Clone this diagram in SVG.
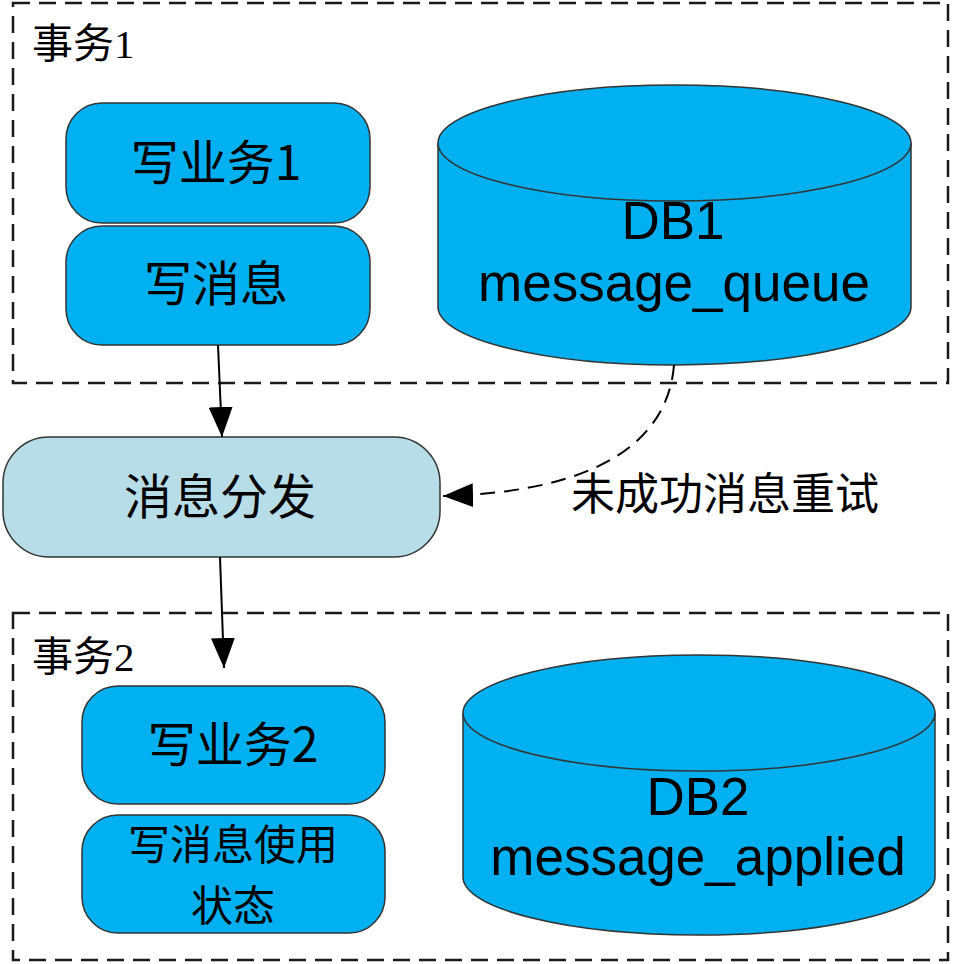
<svg xmlns="http://www.w3.org/2000/svg" width="953" height="964" viewBox="0 0 953 964">
<defs>
<style>
.frame{fill:none;stroke:#1a1a1a;stroke-width:2.5;stroke-dasharray:17 9}
.node{fill:#00b0f0;stroke:#333;stroke-width:1.5}
.light{fill:#b7dde8;stroke:#333;stroke-width:1.5}
.t{font-family:"Noto Sans CJK SC","Liberation Sans",sans-serif;fill:#000;text-anchor:middle}
.lat{font-family:"Liberation Sans","Noto Sans CJK SC",sans-serif;fill:#000;text-anchor:middle;font-size:53px}
.title{font-family:"Liberation Serif","Noto Sans CJK SC",serif;fill:#000;font-size:41px}
.edge{fill:none;stroke:#000;stroke-width:2}
.dash{fill:none;stroke:#000;stroke-width:2;stroke-dasharray:15 9}
</style>
<marker id="arr" markerWidth="30" markerHeight="24" viewBox="0 0 30 24" refX="30" refY="12" orient="auto" markerUnits="userSpaceOnUse">
<path d="M0,0 L30,12 L0,24 Z" fill="#000"/>
</marker>
</defs>

<g id="txn1">
<rect class="frame" x="13" y="3" width="935" height="380"/>
<text class="title" x="32" y="58">事务1</text>
</g>

<g id="write-biz1">
<rect class="node" x="66" y="103" width="304" height="120" rx="36"/>
<text class="t" x="216" y="180" font-size="48">写业务1</text>
</g>

<g id="write-msg">
<rect class="node" x="66" y="226" width="304" height="119" rx="36"/>
<text class="t" x="216" y="301" font-size="48">写消息</text>
</g>

<g id="db1">
<path class="node" d="M438,143 L438,307 A236.5,58 0 0 0 911,307 L911,143"/>
<ellipse class="node" cx="674.5" cy="143" rx="236.5" ry="58"/>
<text class="lat" x="673" y="239">DB1</text>
<text class="lat" x="674" y="301">message_queue</text>
</g>

<g id="dispatch">
<rect class="light" x="3" y="437" width="437" height="120" rx="46"/>
<text class="t" x="220" y="514" font-size="48">消息分发</text>
</g>

<g id="txn2">
<rect class="frame" x="13" y="613" width="935" height="347"/>
<text class="title" x="32" y="671">事务2</text>
</g>

<g id="write-biz2">
<rect class="node" x="82" y="686" width="303" height="118" rx="36"/>
<text class="t" x="233" y="762" font-size="48">写业务2</text>
</g>

<g id="write-status">
<rect class="node" x="82" y="815" width="303" height="118" rx="36"/>
<text class="t" x="233" y="860" font-size="42">写消息使用</text>
<text class="t" x="233" y="921" font-size="42">状态</text>
</g>

<g id="db2">
<path class="node" d="M463,713 L463,877 A236,58 0 0 0 935,877 L935,713"/>
<ellipse class="node" cx="699" cy="713" rx="236" ry="58"/>
<text class="lat" x="698" y="815">DB2</text>
<text class="lat" x="698" y="875">message_applied</text>
</g>

<g id="connectors">
<path class="edge" d="M218,345 L222,437" marker-end="url(#arr)"/>
<path class="edge" d="M220,557 L224,668" marker-end="url(#arr)"/>
<path class="dash" d="M674,365 C668,440 600,492 443,496" marker-end="url(#arr)"/>
<text class="t" x="725" y="510" font-size="44">未成功消息重试</text>
</g>
</svg>
